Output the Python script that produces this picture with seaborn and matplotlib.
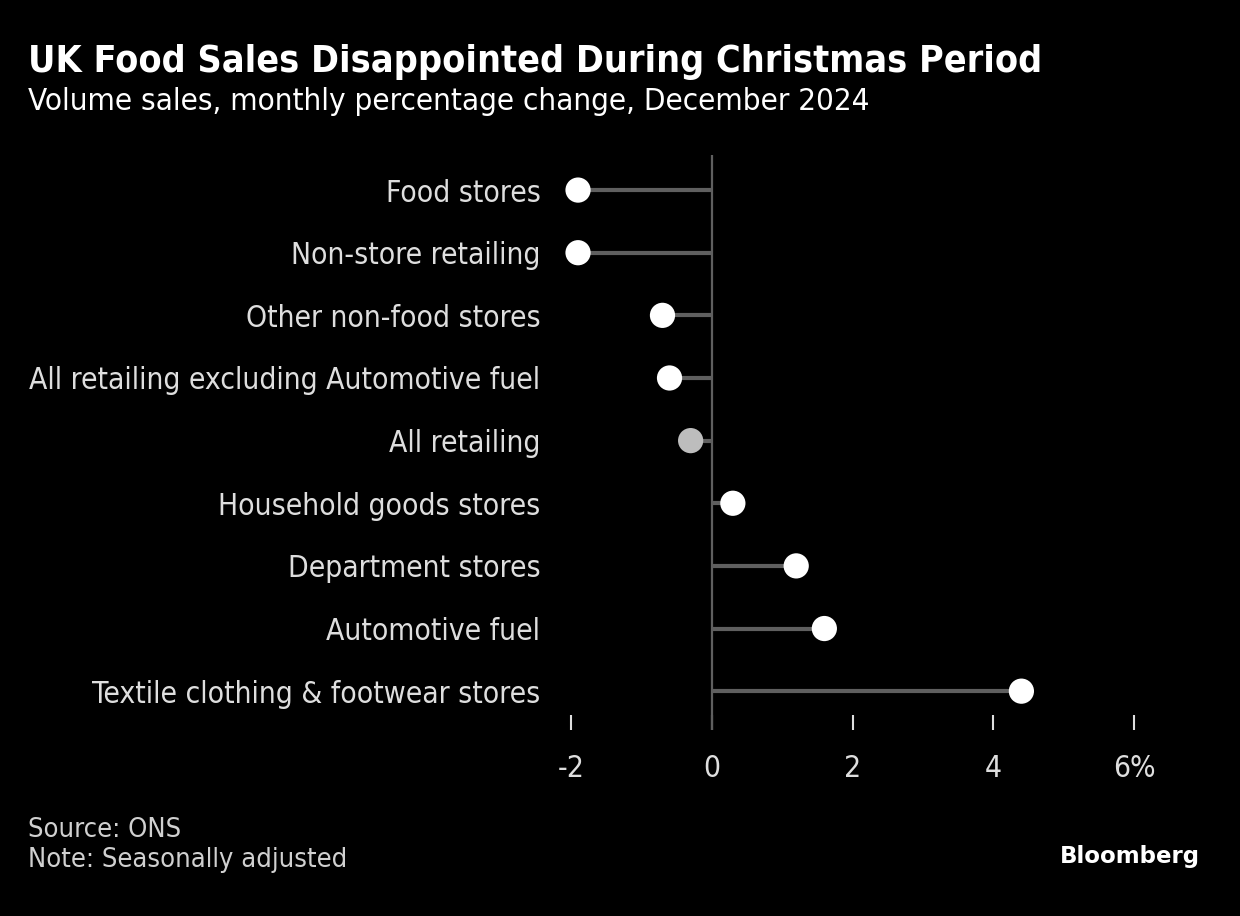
import matplotlib
matplotlib.use('Agg')
import matplotlib.pyplot as plt
import pandas as pd
import seaborn as sns

categories = ['Food stores', 'Non-store retailing', 'Other non-food stores',
              'All retailing excluding Automotive fuel', 'All retailing',
              'Household goods stores', 'Department stores', 'Automotive fuel',
              'Textile clothing & footwear stores']
values = [-1.9, -1.9, -0.7, -0.6, -0.3, 0.3, 1.2, 1.6, 4.4]
highlight = ['All retailing']
xticks = [-2, 0, 2, 4, 6]
xticklabels = ['-2', '0', '2', '4', '6%']

sns.set_style('dark')
plt.rcParams['font.family'] = ['DejaVu Sans']
plt.rcParams['font.stretch'] = 'condensed'

df = pd.DataFrame({'cat': categories, 'val': values})
df['pos'] = range(len(df))
df['kind'] = ['hl' if c in highlight else 'base' for c in df.cat]

fig = plt.figure(figsize=(12.4, 9.16), dpi=100, facecolor='black')
ax = fig.add_axes([571 / 1240, 1 - 730 / 916, (1134 - 571) / 1240, (730 - 155) / 916])
ax.set_facecolor('black')

ax.hlines(df.pos, 0, df.val, color='#5f5f5f', linewidth=3, zorder=2)
ax.axvline(0, color='#5f5f5f', linewidth=1.6, zorder=1)
sns.scatterplot(data=df, x='val', y='pos', hue='kind', palette={'base': 'white', 'hl': '#bdbdbd'},
                s=330, edgecolor='none', legend=False, ax=ax, zorder=3, clip_on=False)

ax.set_xlim(-2, 6)
ax.set_ylim(8.62, -0.56)
ax.set_yticks(df.pos)
ax.set_yticklabels(df.cat, fontsize=21.5, color='#dedede')
ax.set_xticks(xticks)
ax.set_xticklabels(xticklabels, fontsize=21.5, color='#dedede')
ax.tick_params(axis='y', left=False, length=0, pad=22)
ax.tick_params(axis='x', bottom=True, direction='in', length=11, width=1.5, color='#dedede', pad=17)
ax.set(xlabel='', ylabel='')
ax.grid(False)
for s in ax.spines.values():
    s.set_visible(False)

fig.text(28 / 1240, 1 - 62 / 916, 'UK Food Sales Disappointed During Christmas Period',
         fontsize=27, fontweight='bold', color='white', va='center', ha='left')
fig.text(28 / 1240, 1 - 102 / 916, 'Volume sales, monthly percentage change, December 2024',
         fontsize=22.5, color='white', va='center', ha='left')
fig.text(28 / 1240, 1 - 830 / 916, 'Source: ONS', fontsize=19.5, color='#d0d0d0', va='center', ha='left')
fig.text(28 / 1240, 1 - 860 / 916, 'Note: Seasonally adjusted', fontsize=19.5, color='#d0d0d0',
         va='center', ha='left')
fig.text(1200 / 1240, 1 - 856 / 916, 'Bloomberg', fontsize=16.5, fontweight='bold', color='white',
         va='center', ha='right', stretch='normal')

fig.savefig('out.png', dpi=100, facecolor='black')
